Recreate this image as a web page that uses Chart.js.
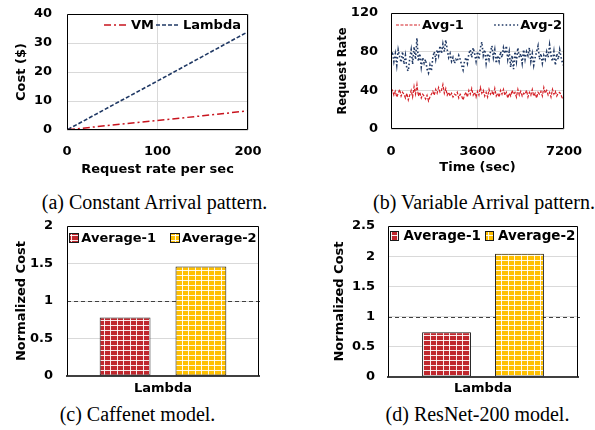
<!DOCTYPE html>
<html>
<head>
<meta charset="utf-8">
<script src="https://cdn.jsdelivr.net/npm/chart.js@4.4.1/dist/chart.umd.min.js"></script>
<style>
  html, body { margin: 0; padding: 0; background: #fff; }
  body { width: 595px; height: 430px; position: relative; overflow: hidden; }
  canvas { position: absolute; }
  .cap {
    position: absolute; white-space: nowrap; color: #000;
    font-family: 'Liberation Serif', 'Times New Roman', serif;
    font-size: 20px; line-height: 20px; transform: translateX(-50%);
  }
</style>
</head>
<body>
<canvas id="chartA" width="297" height="185" style="left:0;top:0"></canvas>
<canvas id="chartB" width="295" height="185" style="left:300px;top:0"></canvas>
<canvas id="chartC" width="297" height="185" style="left:0;top:215px"></canvas>
<canvas id="chartD" width="295" height="185" style="left:300px;top:215px"></canvas>

<div class="cap" style="left:154.5px;top:192px">(a) Constant Arrival pattern.</div>
<div class="cap" style="left:484px;top:192px">(b) Variable Arrival pattern.</div>
<div class="cap" style="left:137.5px;top:404px">(c) Caffenet model.</div>
<div class="cap" style="left:477.5px;top:404px">(d) ResNet-200 model.</div>

<script>
/* ---------- data: (a) constant arrival ---------- */
const REQ_RATE    = [1, 50, 100, 150, 200];
const VM_COST     = [0.1, 1.7, 3.3, 4.9, 6.6];
const LAMBDA_COST = [0.2, 8.5, 16.9, 25.4, 33.9];
const RATE_TICKS  = [0, 100, 200];
const COST_TICKS  = [0, 10, 20, 30, 40];

/* ---------- data: (b) variable arrival, one sample per minute ---------- */
const SAMPLE_STEP = 60;   // seconds between samples
const AVG1_RATE = [
  38, 40, 35, 39, 33, 37, 41, 34, 38, 36,
  32, 37, 30, 35, 40, 33, 44, 36, 46, 34,
  38, 32, 36, 34, 31, 35, 29, 33, 36, 39,
  35, 41, 37, 43, 38, 40, 46, 37, 42, 35,
  38, 34, 37, 33, 36, 35, 38, 32, 36, 34,
  30, 35, 38, 33, 40, 36, 42, 35, 38, 33,
  39, 35, 43, 37, 40, 34, 38, 33, 41, 36,
  39, 35, 42, 34, 37, 33, 40, 36, 41, 35,
  38, 32, 37, 34, 40, 36, 38, 33, 41, 35,
  39, 34, 37, 36, 40, 33, 38, 35, 41, 34,
  37, 32, 38, 36, 39, 34, 43, 37, 40, 35,
  38, 33, 41, 36, 39, 34, 37, 38, 35, 31,
  33
];
const AVG2_RATE = [
  74, 80, 70, 78, 66, 82, 75, 69, 80, 67,
  76, 62, 60, 73, 82, 67, 85, 72, 94, 70,
  78, 64, 74, 68, 72, 62, 58, 66, 60, 74,
  80, 72, 82, 76, 86, 78, 88, 80, 92, 82,
  74, 78, 70, 74, 68, 72, 70, 76, 72, 66,
  61, 70, 74, 68, 78, 82, 74, 84, 78, 70,
  80, 72, 84, 90, 76, 82, 68, 78, 72, 80,
  86, 74, 82, 68, 76, 70, 80, 74, 84, 78,
  86, 72, 80, 64, 76, 62, 80, 70, 84, 74,
  78, 68, 82, 72, 80, 76, 84, 70, 78, 66,
  74, 80, 86, 72, 78, 68, 76, 72, 80, 74,
  87, 76, 70, 80, 66, 78, 72, 82, 74, 68,
  65
];
const TIME_TICKS = [0, 3600, 7200];
const RATE_Y_TICKS = [0, 40, 80, 120];

/* ---------- data: (c) caffenet, (d) resnet-200 ---------- */
const PLATFORMS     = ['Lambda'];
const CAFFENET_AVG1 = [0.78];
const CAFFENET_AVG2 = [1.46];
const RESNET_AVG1   = [0.74];
const RESNET_AVG2   = [2.04];
const CAFFENET_TICKS = [0, 0.5, 1, 1.5, 2];
const RESNET_TICKS   = [0, 0.5, 1, 1.5, 2, 2.5];
const VM_LEVEL = 1;     // normalised VM cost

/* ---------- look ---------- */
const FONT_FAMILY = "'DejaVu Sans', sans-serif";
const GRID = '#d9d9d9';
const RED = '#c8141e';
const NAVY = '#1f3864';
const BAR_RED = '#c0272d';
const BAR_YELLOW = '#ffc000';

Chart.defaults.font.family = FONT_FAMILY;
Chart.defaults.font.size = 13;
Chart.defaults.font.weight = 'bold';
Chart.defaults.color = '#000';
Chart.defaults.animation = false;
Chart.defaults.plugins.legend.display = false;
Chart.defaults.plugins.tooltip.enabled = false;

/* ---------- helpers ---------- */
// fixed axis boxes so every plot area lands where the paper has it
const fixWidth  = (w) => (scale) => { scale.width = w; scale.paddingTop = 0; scale.paddingBottom = 0; };
const fixHeight = (h) => (scale) => { scale.height = h; scale.paddingLeft = 0; scale.paddingRight = 0; };
const useTicks  = (values) => (scale) => { scale.ticks = values.map(v => ({ value: v })); };
const plain = (v) => String(v);
const pairs = (xs, ys) => ys.map((y, i) => ({ x: xs[i], y }));

function gridPattern(canvasId, color) {
  const tile = document.createElement('canvas');
  tile.width = 13; tile.height = 10;
  const t = tile.getContext('2d');
  t.fillStyle = color;
  t.fillRect(0, 0, 13, 10);
  t.fillStyle = 'rgba(255,255,255,0.9)';
  t.fillRect(0, 0, 1, 10); t.fillRect(6, 0, 1, 10);
  t.fillRect(0, 0, 13, 1); t.fillRect(0, 5, 13, 1);
  return document.getElementById(canvasId).getContext('2d').createPattern(tile, 'repeat');
}

/* ---------- plugins ---------- */
// box around the plot area
const framePlugin = {
  id: 'frame',
  afterDatasetsDraw(chart, args, opts) {
    const { ctx, chartArea: a } = chart;
    const l = Math.round(a.left) + 0.5, r = Math.round(a.right) - 0.5;
    const t = Math.round(a.top) + 0.5, b = Math.round(a.bottom) - 0.5;
    ctx.save();
    ctx.strokeStyle = '#000';
    ctx.lineWidth = 1;
    ctx.beginPath();
    ctx.moveTo(l, b); ctx.lineTo(l, t); ctx.lineTo(r, t); ctx.lineTo(r, b);
    if (opts.bottom !== false) ctx.lineTo(l, b);
    ctx.stroke();
    ctx.restore();
  }
};

// dashed line at the VM cost level
const refLinePlugin = {
  id: 'refLine',
  beforeDatasetsDraw(chart, args, opts) {
    const { ctx, chartArea: a, scales: { y } } = chart;
    const py = Math.round(y.getPixelForValue(opts.value)) + 0.5;
    ctx.save();
    ctx.strokeStyle = '#404040';
    ctx.lineWidth = 1;
    ctx.setLineDash([4, 3]);
    ctx.beginPath();
    ctx.moveTo(a.left, py);
    ctx.lineTo(a.right + 2, py);
    ctx.stroke();
    ctx.restore();
  }
};

// legend drawn inside the plot area, as in the paper
const insideLegend = {
  id: 'insideLegend',
  afterDraw(chart, args, opts) {
    const { ctx, chartArea: a } = chart;
    const sets = chart.data.datasets;
    ctx.save();
    ctx.font = `bold ${opts.size || 13}px ${FONT_FAMILY}`;
    ctx.textBaseline = 'middle';
    const widths = sets.map(ds => opts.sample + opts.gap + ctx.measureText(ds.label).width);
    const used = widths.reduce((s, w) => s + w, 0);
    let space = opts.spacing || 0;
    let x;
    if (opts.align === 'justify') {
      x = a.left + opts.inset;
      space = (a.width - opts.inset - opts.insetRight - used) / (sets.length - 1);
    } else if (opts.align === 'end') {
      x = a.right - opts.insetRight - used - space * (sets.length - 1);
    } else {
      x = (a.left + a.right - used - space * (sets.length - 1)) / 2;
    }
    const y = a.top + opts.dy;
    sets.forEach((ds, i) => {
      ctx.save();
      if (opts.kind === 'line') {
        ctx.strokeStyle = ds.borderColor;
        ctx.lineWidth = ds.borderWidth;
        ctx.setLineDash(ds.borderDash || []);
        ctx.beginPath();
        ctx.moveTo(x, y); ctx.lineTo(x + opts.sample, y);
        ctx.stroke();
      } else {
        const top = Math.round(y - opts.box / 2);
        ctx.fillStyle = ds.backgroundColor;
        ctx.fillRect(Math.round(x), top, opts.sample, opts.box);
        ctx.strokeStyle = ds.borderColor;
        ctx.lineWidth = 1;
        ctx.strokeRect(Math.round(x) + 0.5, top + 0.5, opts.sample - 1, opts.box - 1);
      }
      ctx.restore();
      ctx.fillStyle = '#000';
      ctx.fillText(ds.label, x + opts.sample + opts.gap, y + 0.5);
      x += widths[i] + space;
    });
    ctx.restore();
  }
};

/* ---------- (a) ---------- */
new Chart(document.getElementById('chartA'), {
  type: 'line',
  data: {
    datasets: [
      { label: 'VM', data: pairs(REQ_RATE, VM_COST), borderColor: RED, borderWidth: 1.5,
        borderDash: [7, 3, 2, 3], pointRadius: 0, fill: false },
      { label: 'Lambda', data: pairs(REQ_RATE, LAMBDA_COST), borderColor: NAVY, borderWidth: 1.6,
        borderDash: [4, 2], pointRadius: 0, fill: false }
    ]
  },
  options: {
    responsive: false,
    layout: { padding: { left: 0, top: 14, right: 49, bottom: 0 } },
    scales: {
      x: {
        type: 'linear', min: 0, max: 200,
        afterBuildTicks: useTicks(RATE_TICKS), afterFit: fixHeight(55),
        grid: { color: GRID, drawTicks: false }, border: { display: false },
        ticks: { padding: 14, callback: plain },
        title: { display: true, text: 'Request rate per sec', padding: { top: 0, bottom: 8 } }
      },
      y: {
        min: 0, max: 40,
        afterBuildTicks: useTicks(COST_TICKS), afterFit: fixWidth(67),
        grid: { color: GRID, drawTicks: false }, border: { display: false },
        ticks: { padding: 15, callback: plain },
        title: { display: true, text: 'Cost ($)', padding: { top: 14, bottom: 0 } }
      }
    },
    plugins: {
      insideLegend: { kind: 'line', align: 'end', insetRight: 7, sample: 24, gap: 3, spacing: 2, dy: 11 }
    }
  },
  plugins: [framePlugin, insideLegend]
});

/* ---------- (b) ---------- */
const times = AVG1_RATE.map((_, i) => i * SAMPLE_STEP);
new Chart(document.getElementById('chartB'), {
  type: 'line',
  data: {
    datasets: [
      { label: 'Avg-1', data: pairs(times, AVG1_RATE), borderColor: '#d42027', borderWidth: 1.2,
        borderDash: [3, 1.5], pointRadius: 0, fill: false },
      { label: 'Avg-2', data: pairs(times, AVG2_RATE), borderColor: NAVY, borderWidth: 1.6,
        borderDash: [1.6, 2.2], pointRadius: 0, fill: false }
    ]
  },
  options: {
    responsive: false,
    layout: { padding: { left: 0, top: 13, right: 31, bottom: 0 } },
    scales: {
      x: {
        type: 'linear', min: 0, max: 7200,
        afterBuildTicks: useTicks(TIME_TICKS), afterFit: fixHeight(56),
        grid: { color: GRID, drawTicks: false }, border: { display: false },
        ticks: { padding: 15, callback: plain },
        title: { display: true, text: 'Time (sec)', padding: { top: 0, bottom: 10 } }
      },
      y: {
        min: 0, max: 120,
        afterBuildTicks: useTicks(RATE_Y_TICKS), afterFit: fixWidth(91),
        grid: { color: GRID, drawTicks: false }, border: { display: false },
        ticks: { padding: 13, callback: plain },
        title: { display: true, text: 'Request Rate', font: { size: 11.5 }, padding: { top: 36, bottom: 0 } }
      }
    },
    plugins: {
      insideLegend: { kind: 'line', align: 'justify', inset: 5, insetRight: 2, sample: 24, gap: 2, dy: 12 }
    }
  },
  plugins: [framePlugin, insideLegend]
});

/* ---------- (c) and (d) ---------- */
function barChart(id, avg1, avg2, yTicks, o) {
  return new Chart(document.getElementById(id), {
    type: 'bar',
    data: {
      labels: PLATFORMS,
      datasets: [
        { label: 'Average-1', data: avg1, backgroundColor: gridPattern(id, BAR_RED),
          borderColor: '#1a1a1a', borderWidth: 1, borderSkipped: false,
          categoryPercentage: o.cat, barPercentage: 0.67 },
        { label: 'Average-2', data: avg2, backgroundColor: gridPattern(id, BAR_YELLOW),
          borderColor: '#1a1a1a', borderWidth: 1, borderSkipped: false,
          categoryPercentage: o.cat, barPercentage: 0.67 }
      ]
    },
    options: {
      responsive: false,
      layout: { padding: { left: 0, top: 11, right: o.right, bottom: 0 } },
      scales: {
        x: {
          afterFit: fixHeight(o.xh),
          grid: { display: false, drawTicks: false }, border: { color: '#404040', width: 2 },
          ticks: { padding: o.xpad }
        },
        y: {
          min: 0, max: yTicks[yTicks.length - 1],
          afterBuildTicks: useTicks(yTicks), afterFit: fixWidth(o.yw),
          grid: { color: GRID, drawTicks: false }, border: { display: false },
          ticks: { padding: o.ypad, callback: plain },
          title: { display: true, text: 'Normalized Cost', padding: { top: o.tpad, bottom: 0 } }
        }
      },
      plugins: {
        frame: { bottom: false },
        refLine: { value: VM_LEVEL },
        insideLegend: o.legend
      }
    },
    plugins: [refLinePlugin, framePlugin, insideLegend]
  });
}

barChart('chartC', CAFFENET_AVG1, CAFFENET_AVG2, CAFFENET_TICKS, {
  cat: 0.79, right: 38, xh: 24, xpad: 5, yw: 67, ypad: 14, tpad: 14,
  legend: { kind: 'box', align: 'center', sample: 10, box: 10, gap: 2, spacing: 14, dy: 12 }
});
barChart('chartD', RESNET_AVG1, RESNET_AVG2, RESNET_TICKS, {
  cat: 0.768, right: 17, xh: 23, xpad: 4, yw: 88, ypad: 13, tpad: 31.5,
  legend: { kind: 'box', align: 'center', sample: 9, box: 10, gap: 4, spacing: 4, dy: 10, size: 13.5 }
});
</script>
</body>
</html>
